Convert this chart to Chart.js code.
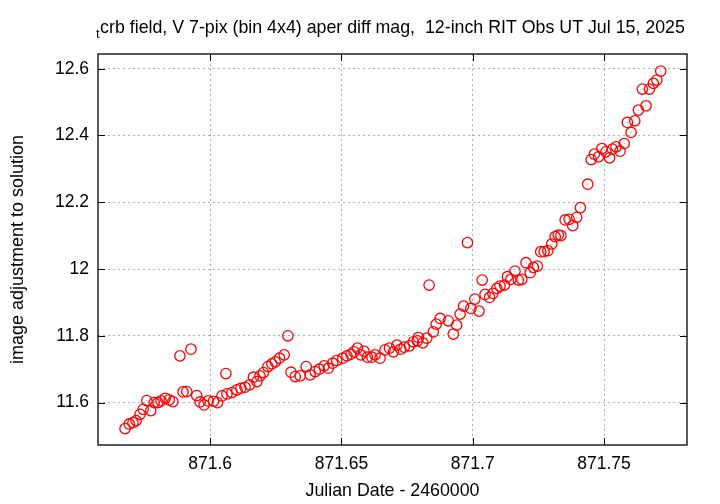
<!DOCTYPE html>
<html>
<head>
<meta charset="utf-8">
<script src="https://cdn.jsdelivr.net/npm/chart.js@4"></script>
<style>
  html, body { margin: 0; padding: 0; background: #fff; }
  #wrap { width: 720px; height: 504px; }
</style>
</head>
<body>
<div id="wrap"><canvas id="magChart" width="720" height="504"></canvas></div>
<script>
// JD - 2460000
var julianDate = [
  871.5676, 871.5692, 871.5706, 871.5718, 871.5733, 871.5745, 871.5759, 871.5774, 871.5787, 871.5801,
  871.5813, 871.5829, 871.5844, 871.5858, 871.5885, 871.5897, 871.5911, 871.5927, 871.5949, 871.5962,
  871.5977, 871.5992, 871.6013, 871.6028, 871.6045, 871.6060, 871.6064, 871.6083, 871.6102, 871.6117,
  871.6133, 871.6150, 871.6165, 871.6178, 871.6190, 871.6203, 871.6220, 871.6235, 871.6248, 871.6264,
  871.6282, 871.6296, 871.6308, 871.6324, 871.6343, 871.6366, 871.6381, 871.6400, 871.6416, 871.6434,
  871.6450, 871.6467, 871.6482, 871.6505, 871.6521, 871.6536, 871.6548, 871.6561, 871.6574, 871.6586,
  871.6599, 871.6616, 871.6628, 871.6647, 871.6666, 871.6683, 871.6698, 871.6711, 871.6726, 871.6739,
  871.6759, 871.6774, 871.6789, 871.6793, 871.6810, 871.6825, 871.6834, 871.6850, 871.6861, 871.6876,
  871.6907, 871.6926, 871.6939, 871.6952, 871.6965, 871.6980, 871.6993, 871.7008, 871.7024, 871.7036,
  871.7047, 871.7064, 871.7077, 871.7092, 871.7104, 871.7121, 871.7132, 871.7145, 871.7161, 871.7174,
  871.7187, 871.7203, 871.7219, 871.7231, 871.7246, 871.7259, 871.7272, 871.7286, 871.7301, 871.7314,
  871.7326, 871.7336, 871.7352, 871.7367, 871.7381, 871.7396, 871.7410, 871.7438, 871.7451, 871.7463,
  871.7479, 871.7492, 871.7507, 871.7521, 871.7532, 871.7546, 871.7561, 871.7577, 871.7589, 871.7603,
  871.7617, 871.7631, 871.7646, 871.7660, 871.7673, 871.7688, 871.7701, 871.7716
];
var adjustment = [
  11.522, 11.536, 11.540, 11.546, 11.565, 11.580, 11.606, 11.576, 11.600, 11.600,
  11.605, 11.613, 11.608, 11.603, 11.740, 11.632, 11.633, 11.760, 11.621, 11.602,
  11.593, 11.605, 11.604, 11.600, 11.620, 11.687, 11.626, 11.630, 11.638, 11.643,
  11.646, 11.653, 11.676, 11.663, 11.680, 11.690, 11.708, 11.716, 11.722, 11.733,
  11.743, 11.800, 11.691, 11.678, 11.680, 11.708, 11.683, 11.693, 11.700, 11.710,
  11.703, 11.718, 11.726, 11.733, 11.740, 11.745, 11.752, 11.763, 11.743, 11.754,
  11.736, 11.736, 11.743, 11.733, 11.758, 11.763, 11.752, 11.772, 11.760, 11.766,
  11.770, 11.782, 11.785, 11.795, 11.779, 11.793, 11.952, 11.812, 11.835, 11.852,
  11.845, 11.805, 11.832, 11.865, 11.889, 12.079, 11.882, 11.910, 11.874, 11.967,
  11.924, 11.915, 11.927, 11.942, 11.949, 11.952, 11.977, 11.969, 11.994, 11.967,
  11.969, 12.019, 11.989, 12.005, 12.009, 12.052, 12.052, 12.055, 12.075, 12.097,
  12.102, 12.100, 12.147, 12.149, 12.130, 12.155, 12.184, 12.254, 12.328, 12.344,
  12.336, 12.361, 12.351, 12.333, 12.359, 12.366, 12.353, 12.376, 12.439, 12.409,
  12.444, 12.476, 12.539, 12.489, 12.539, 12.556, 12.566, 12.593
];
var xTickValues = [871.6, 871.65, 871.7, 871.75];
var yTickValues = [11.6, 11.8, 12.0, 12.2, 12.4, 12.6];

var titleStar = 't';
var titleText = 'crb field, V 7-pix (bin 4x4) aper diff mag,  12-inch RIT Obs UT Jul 15, 2025';
var fontFamily = '"Liberation Sans", Arial, sans-serif';

var points = julianDate.map(function(jd, i) {
  return { x: jd, y: adjustment[i] };
});

// gnuplot-like frame: solid border plus short ticks pointing inward on all four sides
var framePlugin = {
  id: 'frame',
  afterDraw: function(chart) {
    var ctx = chart.ctx;
    var area = chart.chartArea;
    var xs = chart.scales.x;
    var ys = chart.scales.y;
    var tick = 7;
    ctx.save();
    ctx.strokeStyle = '#000';
    ctx.lineWidth = 1;
    ctx.beginPath();
    xTickValues.forEach(function(v) {
      var px = Math.round(xs.getPixelForValue(v)) + 0.5;
      ctx.moveTo(px, area.bottom); ctx.lineTo(px, area.bottom - tick);
      ctx.moveTo(px, area.top); ctx.lineTo(px, area.top + tick);
    });
    yTickValues.forEach(function(v) {
      var py = Math.round(ys.getPixelForValue(v)) + 0.5;
      ctx.moveTo(area.left, py); ctx.lineTo(area.left + tick, py);
      ctx.moveTo(area.right, py); ctx.lineTo(area.right - tick, py);
    });
    ctx.stroke();
    ctx.lineWidth = 1.3;
    ctx.strokeRect(area.left, area.top, area.right - area.left, area.bottom - area.top);

    // title with the subscript "t"
    ctx.fillStyle = '#000';
    ctx.textBaseline = 'alphabetic';
    ctx.textAlign = 'left';
    ctx.font = '13px ' + fontFamily;
    ctx.fillText(titleStar, 96, 38);
    var subW = ctx.measureText(titleStar).width;
    ctx.font = '17.8px ' + fontFamily;
    ctx.fillText(titleText, 96 + subW + 0.5, 33);
    ctx.restore();
  }
};

var ctx = document.getElementById('magChart').getContext('2d');
var chart = new Chart(ctx, {
  type: 'scatter',
  data: {
    datasets: [{
      label: 'mag',
      data: points,
      pointStyle: 'circle',
      pointRadius: 5.2,
      pointBorderWidth: 1.3,
      pointBorderColor: '#ff0000',
      pointBackgroundColor: 'rgba(0,0,0,0)',
      pointHoverRadius: 5.2
    }, {
      label: 'centre',
      data: points,
      pointStyle: 'circle',
      pointRadius: 0.6,
      pointBorderWidth: 0,
      pointBackgroundColor: 'rgba(255,80,80,0.8)'
    }]
  },
  options: {
    responsive: false,
    animation: false,
    events: [],
    layout: { padding: { top: 54, right: 33, left: 0, bottom: 0 } },
    plugins: {
      legend: { display: false },
      tooltip: { enabled: false },
      title: { display: false }
    },
    scales: {
      x: {
        type: 'linear',
        min: 871.5573,
        max: 871.7816,
        afterFit: function(scale) { scale.height = 59; },
        afterBuildTicks: function(scale) {
          scale.ticks = xTickValues.map(function(v) { return { value: v }; });
        },
        ticks: {
          color: '#000',
          padding: 9,
          maxRotation: 0,
          font: { family: fontFamily, size: 17.5 },
          callback: function(v) { return String(Math.round(v * 100) / 100); }
        },
        grid: { color: '#b0b0b0', lineWidth: 1, drawTicks: false },
        border: { display: false, dash: [2, 3] },
        title: {
          display: true,
          text: 'Julian Date - 2460000',
          color: '#000',
          font: { family: fontFamily, size: 17.8 },
          padding: { top: 4, bottom: 2 }
        }
      },
      y: {
        type: 'linear',
        min: 11.473,
        max: 12.644,
        afterFit: function(scale) { scale.width = 98; },
        afterBuildTicks: function(scale) {
          scale.ticks = yTickValues.map(function(v) { return { value: v }; });
        },
        ticks: {
          color: '#000',
          padding: 9,
          font: { family: fontFamily, size: 17.5 },
          callback: function(v) { return String(Math.round(v * 10) / 10); }
        },
        grid: { color: '#b0b0b0', lineWidth: 1, drawTicks: false },
        border: { display: false, dash: [2, 3] },
        title: {
          display: true,
          text: 'image adjustment to solution',
          color: '#000',
          font: { family: fontFamily, size: 18 },
          padding: { top: 7, bottom: 4 }
        }
      }
    }
  },
  plugins: [framePlugin]
});
</script>
</body>
</html>
